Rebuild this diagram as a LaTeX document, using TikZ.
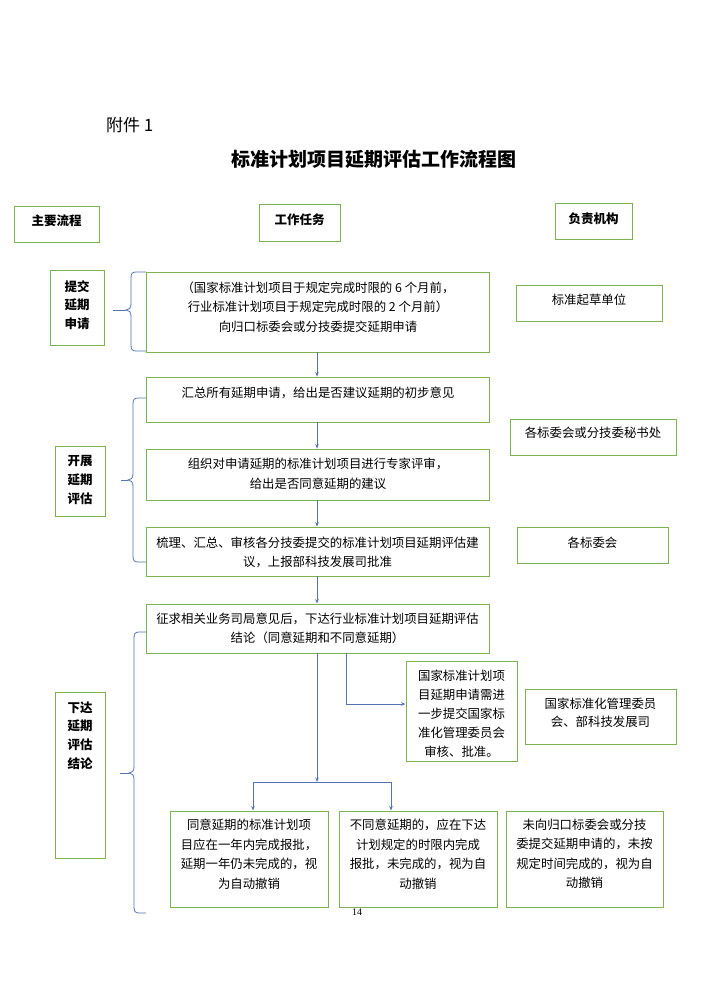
\documentclass[tikz,border=0pt]{standalone}
\usepackage{fontspec}
\setmainfont{Noto Sans CJK SC}
\newfontfamily\numfont{Liberation Serif}
\usetikzlibrary{arrows.meta}
\definecolor{gr}{RGB}{125,178,80}
\definecolor{bl}{RGB}{82,116,178}
\newcommand{\brc}[6]{%
  \draw[ln] (#1,#3) -- ({#2+5},#3) .. controls ({#2+1},#3) and (#2,{#3+2}) .. (#2,{#3+6})
    -- (#2,{#4-6}) .. controls (#2,{#4-2}) and ({#2-2},#4) .. ({#2-5},#4)
    .. controls ({#2-2},#4) and (#2,{#4+2}) .. (#2,{#4+6})
    -- (#2,{#5-6}) .. controls (#2,{#5-2}) and ({#2+1},#5) .. ({#2+5},#5) -- (#1,#5);
  \draw[ln] (#6,#4) -- ({#2-5},#4);}
\begin{document}
\begin{tikzpicture}[x=1pt,y=-1pt,
  box/.style={draw=gr,line width=0.95pt,inner sep=0pt},
  txt/.style={align=center,font=\fontsize{12.4}{19.5}\selectfont,inner sep=0pt},
  hd/.style={align=center,font=\bfseries\fontsize{12.5}{18.8}\selectfont,inner sep=0pt},
  ln/.style={draw=bl,line width=0.8pt},
  arr/.style={ln,-{Stealth[length=4.5pt,width=3.5pt]}},
]
\path[fill=white] (0,0) rectangle (713,991);
\useasboundingbox (0,0) rectangle (713,991);

% title
\node[anchor=west,inner sep=0pt,font=\fontsize{17}{17}\selectfont] (F) at (106,125) {附件 1};
\node[inner sep=0pt,font=\bfseries\fontsize{19}{19}\selectfont] (T) at (374,159) {标准计划项目延期评估工作流程图};

% header boxes
\node[box,minimum width=85,minimum height=36] (H1) at (56.5,224) {};
\node[box,minimum width=81,minimum height=37] (H2) at (299.5,222.5) {};
\node[box,minimum width=77,minimum height=36] (H3) at (593.5,221) {};
\node[hd] (H1t) at (56.5,221) {主要流程};
\node[hd] (H2t) at (299.5,220) {工作任务};
\node[hd] (H3t) at (593.5,219) {负责机构};

% left stage boxes
\node[box,minimum width=54,minimum height=75] (L1) at (77,307.5) {};
\node[box,minimum width=50,minimum height=70] (L2) at (80,481) {};
\node[box,minimum width=50,minimum height=166] (L3) at (80,775) {};
\node[hd] (L1t) at (77,305) {提交\\延期\\申请};
\node[hd] (L2t) at (80,480) {开展\\延期\\评估};
\node[hd] (L3t) at (80,735.5) {下达\\延期\\评估\\结论};

% work boxes
\node[box,minimum width=343,minimum height=80] (B1) at (317.5,312) {};
\node[box,minimum width=343,minimum height=45] (B2) at (317.5,399.5) {};
\node[box,minimum width=343,minimum height=51] (B3) at (317.5,474.5) {};
\node[box,minimum width=343,minimum height=49] (B4) at (317.5,551.5) {};
\node[box,minimum width=343,minimum height=49] (B5) at (317.5,628.5) {};
\node[txt] (B1t) at (318,307) {（国家标准计划项目于规定完成时限的 6 个月前，\\行业标准计划项目于规定完成时限的 2 个月前）\\向归口标委会或分技委提交延期申请};
\node[txt] (B2t) at (318,393) {汇总所有延期申请，给出是否建议延期的初步意见};
\node[txt] (B3t) at (318,474) {组织对申请延期的标准计划项目进行专家评审，\\给出是否同意延期的建议};
\node[txt] (B4t) at (317.5,552.5) {梳理、汇总、审核各分技委提交的标准计划项目延期评估建\\议，上报部科技发展司批准};
\node[txt] (B5t) at (317.5,628.5) {征求相关业务司局意见后，下达行业标准计划项目延期评估\\结论（同意延期和不同意延期）};

% responsible boxes
\node[box,minimum width=146,minimum height=36] (R1) at (589,303) {};
\node[box,minimum width=166,minimum height=36] (R2) at (593,437) {};
\node[box,minimum width=151,minimum height=36] (R3) at (592.5,545) {};
\node[box,minimum width=151,minimum height=55] (R4) at (600.5,716.5) {};
\node[txt] (R1t) at (589,300) {标准起草单位};
\node[txt] (R2t) at (593,433) {各标委会或分技委秘书处};
\node[txt] (R3t) at (592.5,543) {各标委会};
\node[txt,font=\fontsize{12.4}{18}\selectfont] (R4t) at (600.5,713) {国家标准化管理委员\\会、部科技发展司};

% national box
\node[box,minimum width=111,minimum height=100] (N1) at (461.5,711) {};
\node[txt,font=\fontsize{12.4}{19}\selectfont] (N1t) at (461.5,714) {国家标准计划项\\目延期申请需进\\一步提交国家标\\准化管理委员会\\审核、批准。};

% bottom boxes
\node[box,minimum width=158,minimum height=96] (BA) at (249,859) {};
\node[box,minimum width=158,minimum height=96] (BB) at (418,859) {};
\node[box,minimum width=157,minimum height=96] (BC) at (584.5,859) {};
\node[txt] (BAt) at (249,854) {同意延期的标准计划项\\目应在一年内完成报批，\\延期一年仍未完成的，视\\为自动撤销};
\node[txt] (BBt) at (418,854) {不同意延期的，应在下达\\计划规定的时限内完成\\报批，未完成的，视为自\\动撤销};
\node[txt] (BCt) at (584.5,854) {未向归口标委会或分技\\委提交延期申请的，未按\\规定时间完成的，视为自\\动撤销};

% page number
\node[inner sep=0pt,font=\numfont\fontsize{10}{10}\selectfont] (P) at (357,912) {14};

% braces
\brc{146}{131}{272}{310}{351}{113}
\brc{146}{133}{398}{480}{562}{121}
\brc{146}{134}{632}{773}{913}{120}

% connectors
\draw[arr] ([xshift=-0.5pt]B1.south) -- ([xshift=-0.5pt]B2.north);
\draw[arr] ([xshift=-0.5pt]B2.south) -- ([xshift=-0.5pt]B3.north);
\draw[arr] ([xshift=-0.5pt]B3.south) -- ([xshift=-0.5pt]B4.north);
\draw[arr] ([xshift=-0.5pt]B4.south) -- ([xshift=-0.5pt]B5.north);
\coordinate (J) at (317,782);
\coordinate (JL) at (253,782);
\coordinate (JR) at (391,782);
\draw[arr] ([xshift=-0.5pt]B5.south) -- (J);
\draw[ln] (JL) -- (JR);
\draw[arr] (JL) -- (JL |- BA.north);
\draw[arr] (JR) -- (JR |- BB.north);
\draw[arr] ([xshift=28.5pt]B5.south) |- ([yshift=7pt]N1.west);
\end{tikzpicture}
\end{document}
